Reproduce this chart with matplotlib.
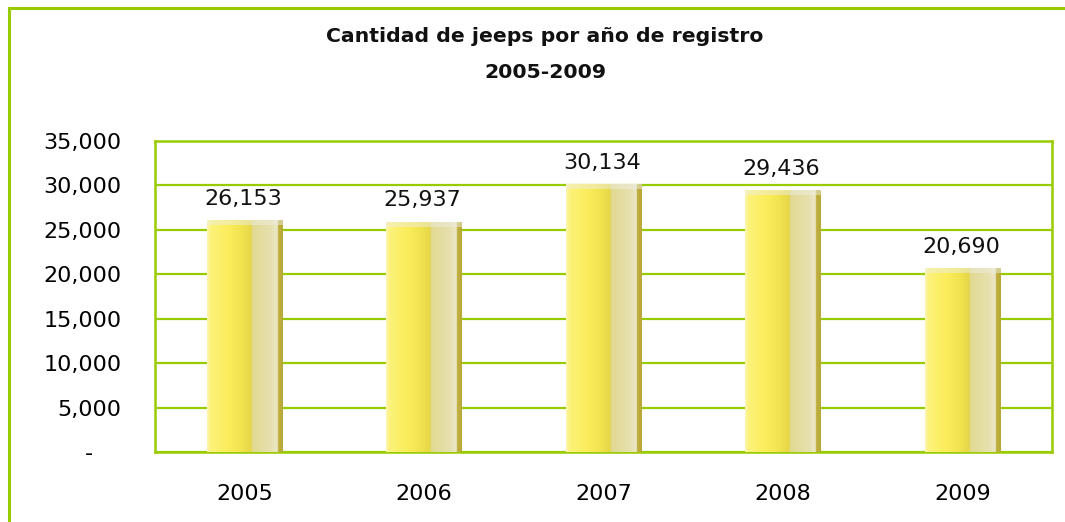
import numpy as np
import matplotlib
matplotlib.use("Agg")
import matplotlib.pyplot as plt
from matplotlib.colors import to_rgb
from matplotlib.lines import Line2D

# Datos del grafico
years = ['2005', '2006', '2007', '2008', '2009']
jeeps = [26153, 25937, 30134, 29436, 20690]
y_ticks = [0, 5000, 10000, 15000, 20000, 25000, 30000, 35000]
y_labels = ['-    ', '5,000', '10,000', '15,000', '20,000', '25,000', '30,000', '35,000']

green = '#99cc00'
plt.rcParams['font.family'] = ['DejaVu Sans']

fig = plt.figure(figsize=(10.65, 5.22), dpi=100)
ax = fig.add_axes([155 / 1065, 1 - 452 / 522, (1052 - 155) / 1065, (452 - 141) / 522])

# gradiente horizontal de las barras (estilo Excel)
stops = [0.0, 0.05, 0.27, 0.45, 0.58, 0.60, 0.85, 0.93, 0.94, 1.0]
cols = ['#fdf6b0', '#fcf27a', '#fbed5c', '#f2e450', '#e6d64a',
        '#e2da92', '#e6e0b0', '#ece8c8', '#bfb040', '#b8a838']
cols = np.array([to_rgb(c) for c in cols])
xs = np.linspace(0, 1, 200)
grad = np.stack([np.interp(xs, stops, cols[:, k]) for k in range(3)], axis=-1)[None, :, :]
cap = 0.5 * grad + 0.5 * np.array([0.93, 0.93, 0.88])

width = 0.42
x = np.arange(len(years))
bars = ax.bar(x, jeeps, width=width, color='none', zorder=3)
cap_h = 560
for b in bars:
    x0, x1 = b.get_x(), b.get_x() + b.get_width()
    h = b.get_height()
    ax.imshow(grad, extent=[x0, x1, 0, h - cap_h], aspect='auto', zorder=3, interpolation='bilinear')
    ax.imshow(cap, extent=[x0, x1, h - cap_h, h], aspect='auto', zorder=3, interpolation='bilinear')
    ax.annotate(f'{h:,.0f}', (b.get_x() + b.get_width() / 2, h), xytext=(-1, 8),
                textcoords='offset points', ha='center', va='bottom', fontsize=16, color='#111111')

ax.set_xlim(-0.5, len(years) - 0.5)
ax.set_ylim(0, 35000)
ax.set_yticks(y_ticks)
ax.set_yticklabels(y_labels, fontsize=16)
ax.set_xticks(x)
ax.set_xticklabels(years, fontsize=16)
ax.tick_params(axis='y', length=0, pad=24)
ax.tick_params(axis='x', length=0, pad=23)
ax.grid(axis='y', color=green, linewidth=1.6, zorder=1)
ax.set_axisbelow(True)
for s in ax.spines.values():
    s.set_color(green)
    s.set_linewidth(1.8)

# titulo
fig.text(545 / 1065, 1 - 37 / 522, 'Cantidad de jeeps por año de registro',
         ha='center', va='center', fontsize=14.7, fontweight='bold', color='#111111')
fig.text(545 / 1065, 1 - 72 / 522, '2005-2009',
         ha='center', va='center', fontsize=14.7, fontweight='bold', color='#111111')

# borde exterior del area del grafico
fig.add_artist(Line2D([9 / 1065, 9 / 1065], [0, 1 - 8 / 522], color=green, linewidth=2.2))
fig.add_artist(Line2D([9 / 1065, 1], [1 - 8 / 522, 1 - 8 / 522], color=green, linewidth=2.2))

fig.savefig('out.png', dpi=100)
